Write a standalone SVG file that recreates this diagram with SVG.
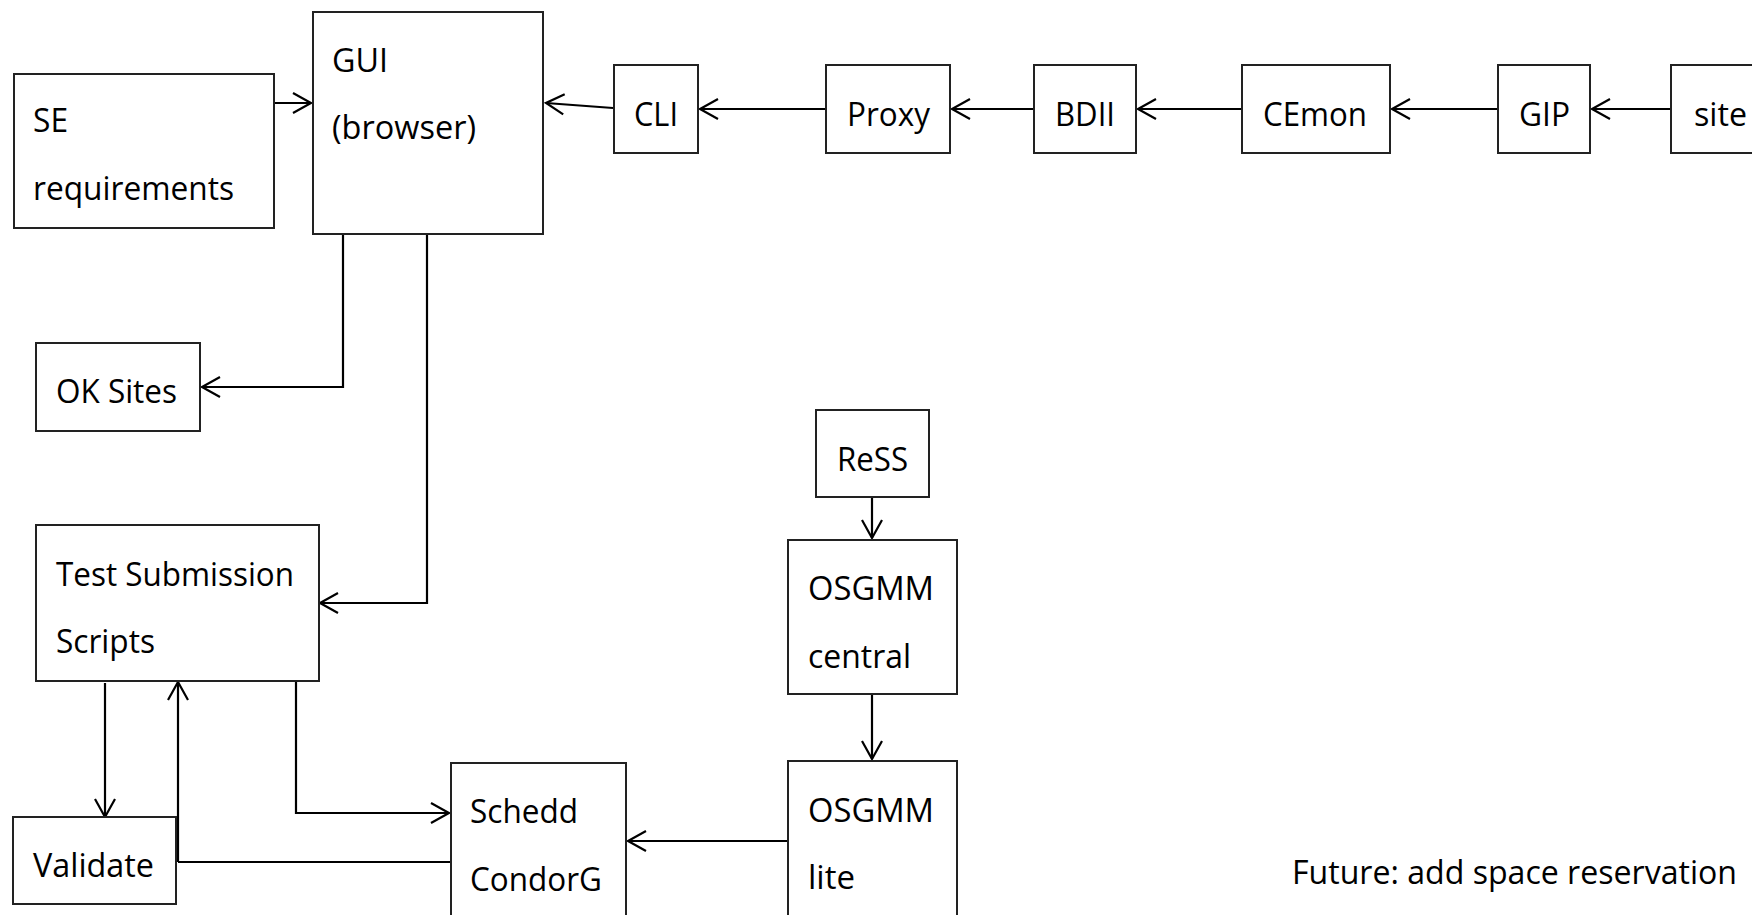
<svg xmlns="http://www.w3.org/2000/svg" width="1752" height="915" viewBox="0 0 1752 915">
<defs>
<style>
.box{fill:#fff;stroke:#222;stroke-width:2}
.t{font-family:"Open Sans","Liberation Sans",Arial,sans-serif;font-size:32px;fill:#000}
.c{fill:none;stroke:#000;stroke-width:2.2}
.ca{fill:none;stroke:#000;stroke-width:2.2;marker-end:url(#arr)}
</style>
<marker id="arr" viewBox="-22 -12 26 24" refX="0" refY="0" markerWidth="26" markerHeight="24" orient="auto" markerUnits="userSpaceOnUse">
<path d="M-18,-10 L0,0 L-18,10" fill="none" stroke="#000" stroke-width="2.2"/>
</marker>
</defs>
<rect width="1752" height="915" fill="#fff"/>
<g id="connectors">
<path class="ca" d="M275,103 H311"/>
<path class="ca" d="M613,108 L546,103"/>
<path class="ca" d="M826,109 H700"/>
<path class="ca" d="M1242,109 H1138"/>
<path class="ca" d="M1498,109 H1392"/>
<path class="ca" d="M1671,109 H1592"/>
<path class="ca" d="M1034,109 H952"/>
<path class="ca" d="M343,235 V387 H202"/>
<path class="ca" d="M427,235 V603 H320"/>
<path class="ca" d="M105,683 V817"/>
<path class="c" d="M450,862 H178"/>
<path class="ca" d="M178,862 V682"/>
<path class="ca" d="M296,682 V813 H449"/>
<path class="ca" d="M788,841 H628"/>
<path class="ca" d="M872,497 V538"/>
<path class="ca" d="M872,694 V759"/>
</g>
<g id="se"><rect class="box" x="14" y="74" width="260" height="154"/>
<text class="t" x="33" y="132" textLength="35" lengthAdjust="spacingAndGlyphs">SE</text>
<text class="t" x="33" y="200" textLength="201" lengthAdjust="spacingAndGlyphs">requirements</text></g>
<g id="gui"><rect class="box" x="313" y="12" width="230" height="222"/>
<text class="t" x="332" y="72" textLength="56" lengthAdjust="spacingAndGlyphs">GUI</text>
<text class="t" x="332" y="139" textLength="144" lengthAdjust="spacingAndGlyphs">(browser)</text></g>
<g id="cli"><rect class="box" x="614" y="65" width="84" height="88"/>
<text class="t" x="634" y="126" textLength="44" lengthAdjust="spacingAndGlyphs">CLI</text></g>
<g id="proxy"><rect class="box" x="826" y="65" width="124" height="88"/>
<text class="t" x="847" y="126" textLength="83" lengthAdjust="spacingAndGlyphs">Proxy</text></g>
<g id="bdii"><rect class="box" x="1034" y="65" width="102" height="88"/>
<text class="t" x="1055" y="126" textLength="60" lengthAdjust="spacingAndGlyphs">BDII</text></g>
<g id="cemon"><rect class="box" x="1242" y="65" width="148" height="88"/>
<text class="t" x="1263" y="126" textLength="104" lengthAdjust="spacingAndGlyphs">CEmon</text></g>
<g id="gip"><rect class="box" x="1498" y="65" width="92" height="88"/>
<text class="t" x="1519" y="126" textLength="51" lengthAdjust="spacingAndGlyphs">GIP</text></g>
<g id="site"><rect class="box" x="1671" y="65" width="100" height="88"/>
<text class="t" x="1694" y="126" textLength="53" lengthAdjust="spacingAndGlyphs">site</text></g>
<g id="oksites"><rect class="box" x="36" y="343" width="164" height="88"/>
<text class="t" x="56" y="403" textLength="121" lengthAdjust="spacingAndGlyphs">OK Sites</text></g>
<g id="testsub"><rect class="box" x="36" y="525" width="283" height="156"/>
<text class="t" x="56" y="586" textLength="238" lengthAdjust="spacingAndGlyphs">Test Submission</text>
<text class="t" x="56" y="653" textLength="99" lengthAdjust="spacingAndGlyphs">Scripts</text></g>
<g id="validate"><rect class="box" x="13" y="817" width="163" height="87"/>
<text class="t" x="33" y="877" textLength="121" lengthAdjust="spacingAndGlyphs">Validate</text></g>
<g id="schedd"><rect class="box" x="451" y="763" width="175" height="170"/>
<text class="t" x="470" y="823" textLength="108" lengthAdjust="spacingAndGlyphs">Schedd</text>
<text class="t" x="470" y="891" textLength="132" lengthAdjust="spacingAndGlyphs">CondorG</text></g>
<g id="ress"><rect class="box" x="816" y="410" width="113" height="87"/>
<text class="t" x="837" y="471" textLength="71" lengthAdjust="spacingAndGlyphs">ReSS</text></g>
<g id="osgmm-central"><rect class="box" x="788" y="540" width="169" height="154"/>
<text class="t" x="808" y="600" textLength="126" lengthAdjust="spacingAndGlyphs">OSGMM</text>
<text class="t" x="808" y="668" textLength="103" lengthAdjust="spacingAndGlyphs">central</text></g>
<g id="osgmm-lite"><rect class="box" x="788" y="761" width="169" height="170"/>
<text class="t" x="808" y="822" textLength="126" lengthAdjust="spacingAndGlyphs">OSGMM</text>
<text class="t" x="808" y="889" textLength="47" lengthAdjust="spacingAndGlyphs">lite</text></g>
<g id="future"><text class="t" x="1292" y="884" textLength="445" lengthAdjust="spacingAndGlyphs">Future: add space reservation</text></g>
</svg>
